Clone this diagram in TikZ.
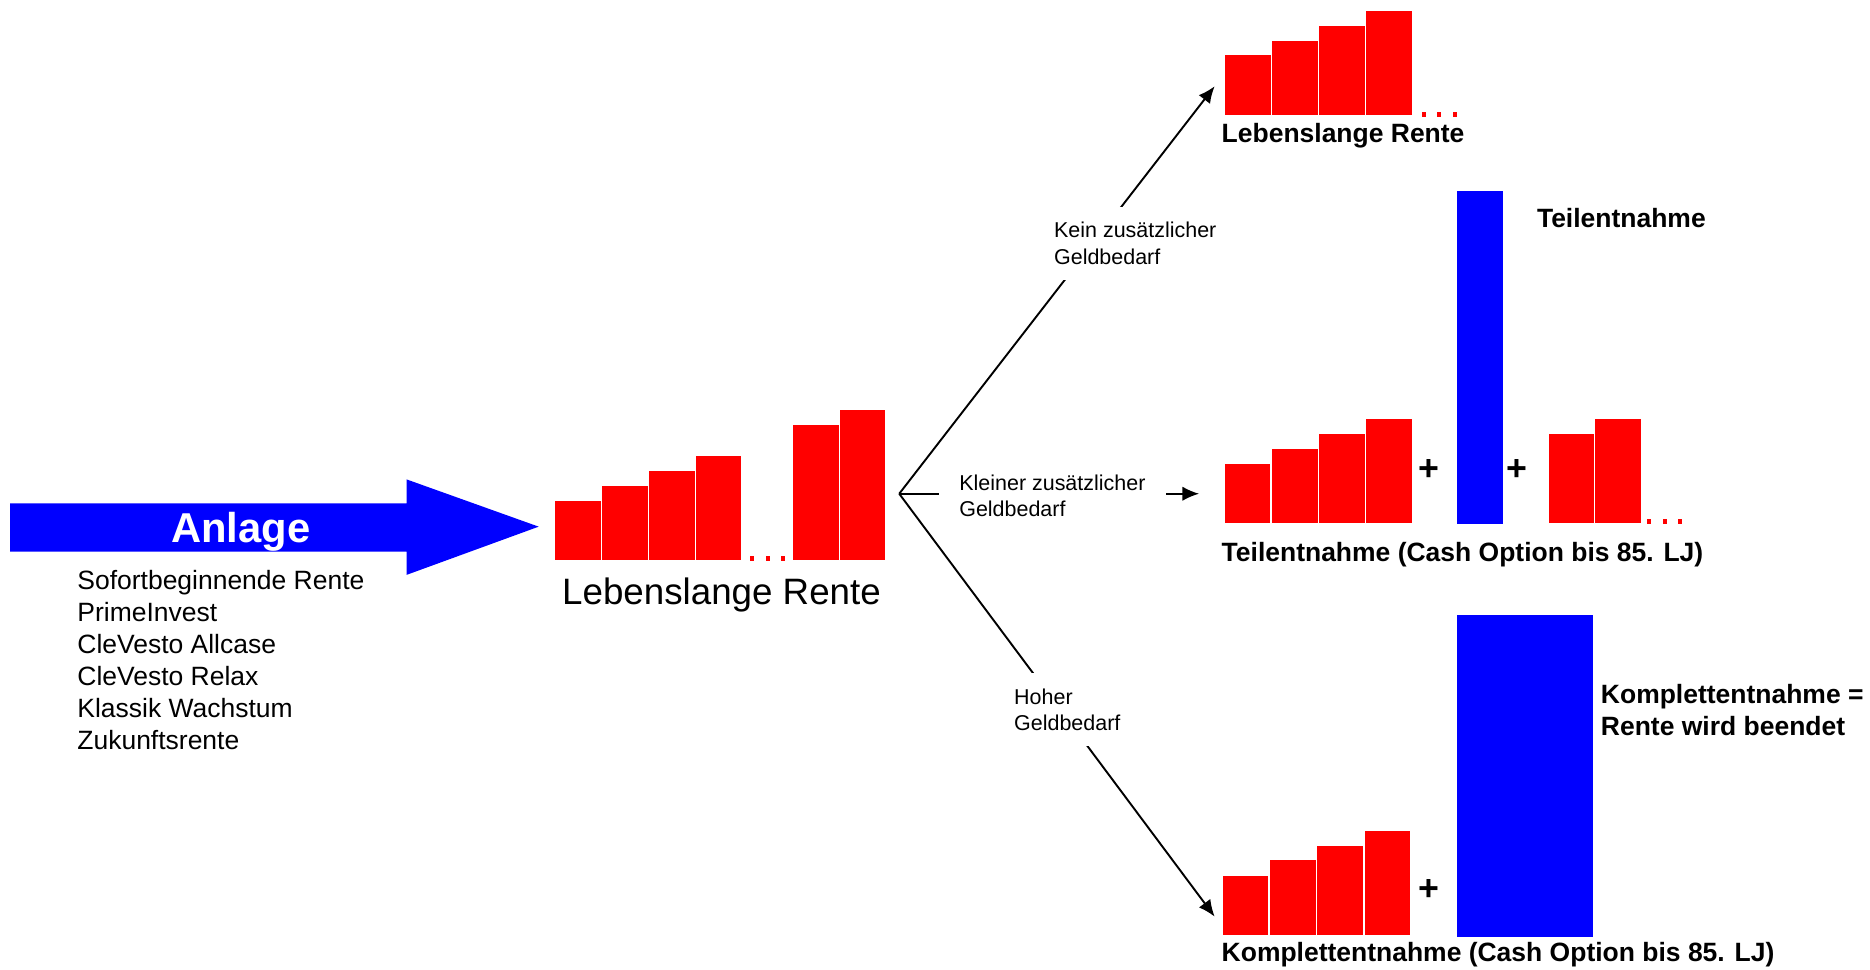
\documentclass[tikz,border=0pt]{standalone}
\usepackage{fontspec}
\setmainfont{Liberation Sans}
\usetikzlibrary{arrows.meta}

\tikzset{
  bar/.style={fill=red, draw=white, line width=0.5pt},
  cash/.style={fill=blue},
  need/.style={fill=white, align=left, anchor=north west, inner xsep=8.5pt, inner ysep=6.5pt, font=\fontsize{9}{11}\selectfont},
  boldlbl/.style={anchor=base west, inner sep=0, font=\fontsize{11.1}{13.3}\selectfont\bfseries},
  plus/.style={inner sep=0, font=\fontsize{15}{15}\selectfont\bfseries},
  branch/.style={line width=0.8pt, -{Latex[length=7pt,width=6pt]}}
}
\newcommand{\rentdots}[2]{\foreach \i in {0,1,2} \fill[red] (#1+13*\i,#2) rectangle ++(3.5,-4.5);}

\begin{document}
\begin{tikzpicture}[x=0.5pt, y=-0.5pt]
\useasboundingbox (0,0) rectangle (1568,813);

% Anlage
\fill[blue] (8.4,422) -- (341,422) -- (341,402) -- (451.7,441.6) -- (341,482) -- (341,462.6) -- (8.4,462.6) -- cycle;
\node[anchor=base, text=white, font=\fontsize{17.5}{17.5}\selectfont\bfseries] (anlage) at (202,455) {Anlage};
\foreach \name [count=\i from 0] in {Sofortbeginnende Rente, PrimeInvest, CleVesto Allcase, CleVesto Relax, Klassik Wachstum, Zukunftsrente}
  \node[anchor=base west, inner sep=0, font=\fontsize{11.1}{13}\selectfont] (prod\i) at (64.5,494.5+26.8*\i) {\name};

% lebenslange Rente
\foreach \x/\t in {465/419.3, 504.3/406.7, 543.6/394.1, 582.9/381.5, 664.3/355.5, 703.6/343}
  \path[bar] (\x,\t) rectangle (\x+39.3,470.4);
\rentdots{629}{470.4}
\node[anchor=base, inner sep=0, font=\fontsize{15.4}{15.4}\selectfont] (rente) at (605,506.5) {Lebenslange Rente};

% Verzweigung
\coordinate (fork) at (754,414);
\coordinate (keinend) at (1018.5,72.3);
\coordinate (kleinend) at (1005.5,414);
\coordinate (hochend) at (1018.5,768.6);
\draw[branch] (fork) -- (keinend);
\draw[branch] (fork) -- (kleinend);
\draw[branch] (fork) -- (hochend);
\node[need] (kein) at (866.5,173) {Kein zusätzlicher\\Geldbedarf};
\node[need] (klein) at (787,385) {Kleiner zusätzlicher\\Geldbedarf};
\node[need] (hoch) at (833,564) {Hoher\\Geldbedarf};

% kein Geldbedarf
\foreach \x/\t in {1026.5/46, 1066/33.5, 1105.5/21, 1145/8.4}
  \path[bar] (\x,\t) rectangle (\x+39.5,97);
\rentdots{1192}{98.5}
\node[boldlbl] (lebenslang) at (1024,119.5) {Lebenslange Rente};

% kleiner Geldbedarf
\foreach \x/\t in {1026.5/388.4, 1066/375.7, 1105.5/363, 1145/350.5, 1298/363, 1337/350.5}
  \path[bar] (\x,\t) rectangle (\x+39.3,439.3);
\fill[cash] (1221.7,160) rectangle (1260.3,439.3);
\node[plus] (plus1) at (1198,394.5) {+};
\node[plus] (plus2) at (1272,394.5) {+};
\rentdots{1381}{439.3}
\node[boldlbl] (teil) at (1288.4,191) {Teilentnahme};
\node[boldlbl] (teillbl) at (1024,470.4) {Teilentnahme (Cash Option bis 85. LJ)};

% hoher Geldbedarf
\foreach \x/\t in {1024.7/733.7, 1064.5/721, 1104.2/708.5, 1143.8/696}
  \path[bar] (\x,\t) rectangle (\x+39.2,784.8);
\fill[cash] (1221.7,515.7) rectangle (1335.5,785.4);
\node[plus] (plus3) at (1198,746.5) {+};
\node[boldlbl, anchor=north west, align=left] (komplett) at (1342,573.5) {Komplettentnahme =\\Rente wird beendet};
\node[boldlbl] (komplettlbl) at (1024,806) {Komplettentnahme (Cash Option bis 85. LJ)};
\end{tikzpicture}
\end{document}
